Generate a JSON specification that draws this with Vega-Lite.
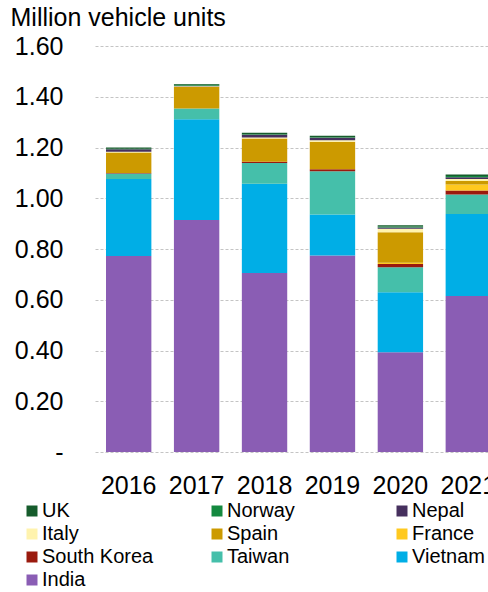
{
  "$schema": "https://vega.github.io/schema/vega-lite/v6.json",
  "autosize": {"type": "none"},
  "width": 393,
  "height": 406,
  "padding": {"left": 95, "top": 46, "right": 0, "bottom": 140},
  "background": "white",
  "config": {
    "font": "Liberation Sans",
    "view": {"stroke": null}
  },
  "data": {
    "values": [
      {"year": "2016", "country": "India", "value": 0.772},
      {"year": "2016", "country": "Vietnam", "value": 0.304},
      {"year": "2016", "country": "Taiwan", "value": 0.022},
      {"year": "2016", "country": "South Korea", "value": 0.002},
      {"year": "2016", "country": "France", "value": 0.0},
      {"year": "2016", "country": "Spain", "value": 0.080},
      {"year": "2016", "country": "Italy", "value": 0.003},
      {"year": "2016", "country": "Nepal", "value": 0.010},
      {"year": "2016", "country": "Norway", "value": 0.002},
      {"year": "2016", "country": "UK", "value": 0.005},
      {"year": "2017", "country": "India", "value": 0.914},
      {"year": "2017", "country": "Vietnam", "value": 0.397},
      {"year": "2017", "country": "Taiwan", "value": 0.043},
      {"year": "2017", "country": "South Korea", "value": 0.0},
      {"year": "2017", "country": "France", "value": 0.0},
      {"year": "2017", "country": "Spain", "value": 0.085},
      {"year": "2017", "country": "Italy", "value": 0.002},
      {"year": "2017", "country": "Nepal", "value": 0.002},
      {"year": "2017", "country": "Norway", "value": 0.004},
      {"year": "2017", "country": "UK", "value": 0.003},
      {"year": "2018", "country": "India", "value": 0.705},
      {"year": "2018", "country": "Vietnam", "value": 0.352},
      {"year": "2018", "country": "Taiwan", "value": 0.082},
      {"year": "2018", "country": "South Korea", "value": 0.005},
      {"year": "2018", "country": "France", "value": 0.0},
      {"year": "2018", "country": "Spain", "value": 0.091},
      {"year": "2018", "country": "Italy", "value": 0.004},
      {"year": "2018", "country": "Nepal", "value": 0.011},
      {"year": "2018", "country": "Norway", "value": 0.002},
      {"year": "2018", "country": "UK", "value": 0.006},
      {"year": "2019", "country": "India", "value": 0.774},
      {"year": "2019", "country": "Vietnam", "value": 0.162},
      {"year": "2019", "country": "Taiwan", "value": 0.170},
      {"year": "2019", "country": "South Korea", "value": 0.008},
      {"year": "2019", "country": "France", "value": 0.0},
      {"year": "2019", "country": "Spain", "value": 0.109},
      {"year": "2019", "country": "Italy", "value": 0.006},
      {"year": "2019", "country": "Nepal", "value": 0.009},
      {"year": "2019", "country": "Norway", "value": 0.002},
      {"year": "2019", "country": "UK", "value": 0.006},
      {"year": "2020", "country": "India", "value": 0.393},
      {"year": "2020", "country": "Vietnam", "value": 0.237},
      {"year": "2020", "country": "Taiwan", "value": 0.098},
      {"year": "2020", "country": "South Korea", "value": 0.013},
      {"year": "2020", "country": "France", "value": 0.005},
      {"year": "2020", "country": "Spain", "value": 0.120},
      {"year": "2020", "country": "Italy", "value": 0.014},
      {"year": "2020", "country": "Nepal", "value": 0.005},
      {"year": "2020", "country": "Norway", "value": 0.004},
      {"year": "2020", "country": "UK", "value": 0.005},
      {"year": "2021", "country": "India", "value": 0.615},
      {"year": "2021", "country": "Vietnam", "value": 0.323},
      {"year": "2021", "country": "Taiwan", "value": 0.077},
      {"year": "2021", "country": "South Korea", "value": 0.016},
      {"year": "2021", "country": "France", "value": 0.023},
      {"year": "2021", "country": "Spain", "value": 0.014},
      {"year": "2021", "country": "Italy", "value": 0.008},
      {"year": "2021", "country": "Nepal", "value": 0.007},
      {"year": "2021", "country": "Norway", "value": 0.005},
      {"year": "2021", "country": "UK", "value": 0.006}
    ]
  },
  "transform": [
    {"calculate": "indexof(['India','Vietnam','Taiwan','South Korea','France','Spain','Italy','Nepal','Norway','UK'], datum.country)", "as": "stackRank"}
  ],
  "mark": {"type": "bar"},
  "encoding": {
    "x": {
      "field": "year",
      "type": "nominal",
      "scale": {"range": [0, 407], "paddingInner": 0.332, "paddingOuter": 0.162},
      "axis": {
        "title": null,
        "labelAngle": 0,
        "labelFontSize": 25,
        "labelColor": "black",
        "labelPadding": 21,
        "ticks": false,
        "domain": false
      }
    },
    "y": {
      "field": "value",
      "type": "quantitative",
      "aggregate": "sum",
      "stack": "zero",
      "scale": {"domain": [0, 1.6], "nice": false},
      "axis": {
        "title": "Million vehicle units",
        "titleAngle": 0,
        "titleAlign": "left",
        "titleBaseline": "alphabetic",
        "titleX": -85,
        "titleY": -21,
        "titleFontSize": 25,
        "titleFontWeight": "normal",
        "titleColor": "black",
        "values": [0, 0.2, 0.4, 0.6, 0.8, 1.0, 1.2, 1.4, 1.6],
        "labelExpr": "datum.value == 0 ? '-' : format(datum.value, '.2f')",
        "labelFontSize": 25,
        "labelColor": "black",
        "labelPadding": 32,
        "ticks": false,
        "domain": false,
        "grid": true,
        "gridColor": "#c4c4c4",
        "gridDash": [3, 2],
        "gridWidth": 1
      }
    },
    "color": {
      "field": "country",
      "type": "nominal",
      "scale": {
        "domain": ["UK", "Norway", "Nepal", "Italy", "Spain", "France", "South Korea", "Taiwan", "Vietnam", "India"],
        "range": ["#165C2C", "#14893F", "#46305E", "#FFF3AE", "#CC9A00", "#FFC91F", "#9A1A0E", "#45BFAA", "#00AEE6", "#8A5DB4"]
      },
      "legend": {
        "title": null,
        "orient": "none",
        "direction": "horizontal",
        "legendX": -73,
        "legendY": 455,
        "columns": 3,
        "gridAlign": "all",
        "columnPadding": 53,
        "rowPadding": 3,
        "symbolType": "square",
        "symbolSize": 121,
        "symbolStrokeWidth": 0,
        "labelFontSize": 20,
        "labelColor": "black",
        "labelOffset": 0,
        "labelLimit": 300
      }
    },
    "order": {"field": "stackRank", "type": "quantitative", "sort": "ascending"}
  }
}
